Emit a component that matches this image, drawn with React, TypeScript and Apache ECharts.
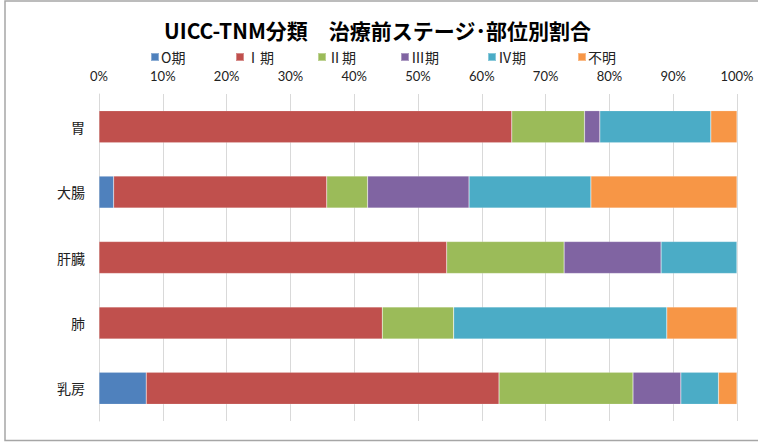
import React, { useEffect, useRef } from "react";
import * as echarts from "echarts";

const categories = ["胃", "大腸", "肝臓", "肺", "乳房"];
const stageNames = ["O期", "Ⅰ期", "Ⅱ期", "Ⅲ期", "Ⅳ期", "不明"];
const stageColors = ["#4F81BD", "#C0504D", "#9BBB59", "#8064A2", "#4BACC6", "#F79646"];
const stage0 = [0, 2.3, 0, 0, 7.4];
const stage1 = [64.7, 33.4, 54.5, 44.4, 55.3];
const stage2 = [11.4, 6.4, 18.4, 11.2, 21.0];
const stage3 = [2.4, 15.9, 15.2, 0, 7.5];
const stage4 = [17.4, 19.1, 11.9, 33.4, 5.9];
const unknown = [4.1, 22.9, 0, 11.0, 2.9];
const seriesValues = [stage0, stage1, stage2, stage3, stage4, unknown];
const titleText = "UICC-TNM分類　治療前ステージ･部位別割合";
const legendLefts = [150, 235, 317, 400, 487, 577];

export default function App() {
  const ref = useRef<HTMLDivElement>(null);
  useEffect(() => {
    document.body.style.margin = "0";
    const chart = echarts.init(ref.current!, undefined, { renderer: "svg" });
    const jp = "'Noto Sans CJK JP', sans-serif";
    chart.setOption({
      animation: false,
      backgroundColor: "#ffffff",
      title: {
        text: titleText,
        left: 164,
        top: 19,
        padding: 0,
        textStyle: { fontFamily: jp, fontSize: 21, fontWeight: "bold", color: "#000" },
      },
      legend: stageNames.map((name, i) => ({
        left: legendLefts[i],
        top: 50,
        padding: 0,
        itemWidth: 8,
        itemHeight: 8,
        icon: "rect",
        data: [name],
        textStyle: { fontFamily: jp, fontSize: 14, color: "#222", padding: [0, 0, 0, -3] },
      })),
      grid: { left: 99, right: 21, top: 94, bottom: 22, containLabel: false },
      xAxis: {
        type: "value",
        position: "top",
        min: 0,
        max: 100,
        interval: 10,
        axisLine: { show: false },
        axisTick: { show: false },
        splitLine: { show: true, lineStyle: { color: "#d9d9d9", width: 1 } },
        axisLabel: {
          formatter: "{value}%",
          margin: 12,
          fontFamily: "Lato, 'Open Sans', sans-serif",
          fontSize: 13,
          color: "#222",
        },
      },
      yAxis: {
        type: "category",
        data: categories,
        inverse: true,
        axisTick: { show: false },
        axisLine: { show: true, lineStyle: { color: "#d9d9d9" } },
        axisLabel: { margin: 14, fontFamily: jp, fontSize: 14, color: "#222" },
      },
      graphic: [
        {
          type: "rect",
          shape: { x: 5, y: 1, width: 800, height: 439.5 },
          style: { fill: "none", stroke: "#a6a6a6", lineWidth: 1.5 },
          silent: true,
          z: -1,
        },
      ],
      series: stageNames.map((name, i) => ({
        name,
        type: "bar",
        stack: "total",
        barWidth: 32,
        data: seriesValues[i],
        itemStyle: { color: stageColors[i], borderColor: "rgba(255,255,255,0.35)", borderWidth: 0.5 },
      })),
    });
    return () => chart.dispose();
  }, []);
  return <div ref={ref} style={{ width: 758, height: 443 }} />;
}
